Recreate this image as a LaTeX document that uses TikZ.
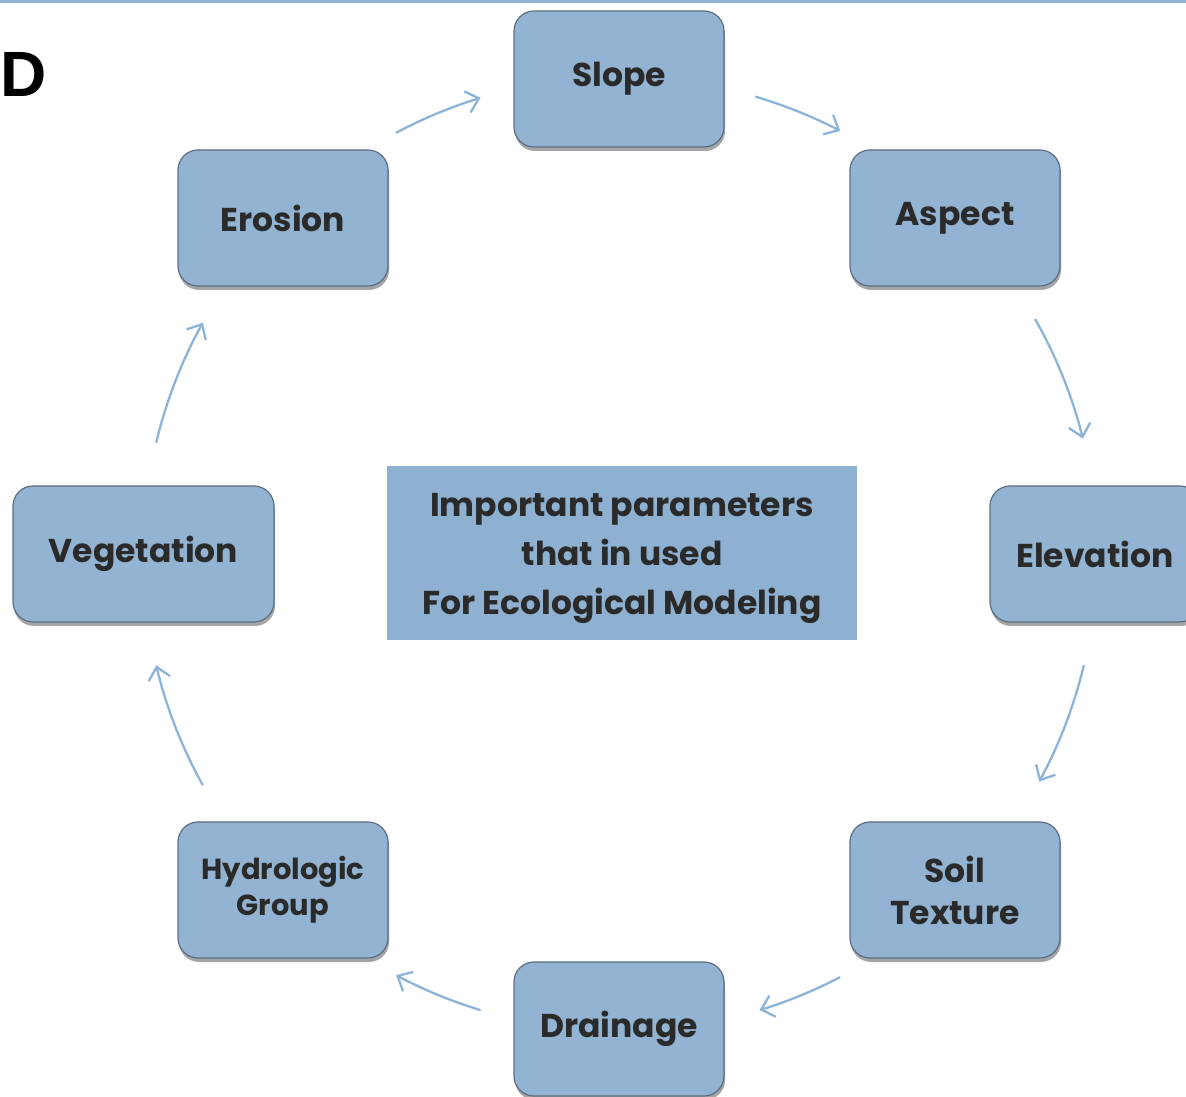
\documentclass[tikz,border=0pt]{standalone}
\usepackage{fontspec}
\setmainfont{Poppins}
\newfontfamily\dfont{Liberation Sans}
\usetikzlibrary{arrows.meta,shadows,calc}
\definecolor{boxfill}{HTML}{92B3D2}
\definecolor{boxedge}{HTML}{5C6E80}
\definecolor{arrowc}{HTML}{8CB4D8}
\definecolor{txt}{HTML}{2A2A2A}
\definecolor{topline}{HTML}{90B4D4}
\definecolor{centerfill}{HTML}{8FB1D1}
\tikzset{
  param/.style={draw=boxedge, line width=1.2pt, fill=boxfill, rounded corners=20pt,
    minimum height=136pt, minimum width=210pt, inner sep=0pt, align=center,
    text=txt, font=\fontsize{33}{40}\selectfont\bfseries,
    drop shadow={shadow xshift=1pt, shadow yshift=-4pt, opacity=0.5, fill=black!70}},
  cyc/.style={draw=arrowc, line width=2.3pt, -{Straight Barb[length=12pt,width=22pt,line width=2.3pt]}},
  ctext/.style={font=\fontsize{33}{49}\selectfont\bfseries, align=center, inner sep=0pt, text=txt}
}
\begin{document}
\begin{tikzpicture}[x=1pt,y=1pt]
\clip (0,0) rectangle (1186,1096);
\fill[white] (0,0) rectangle (1186,1096);
\fill[topline] (0,1093) rectangle (1186,1096);
\node[anchor=west, inner sep=0pt, font=\dfont\fontsize{64}{64}\selectfont\bfseries] (lab) at (0,1022) {D};
\coordinate (C) at (620,542);
% boxes
\node[param] (slope) at (619,1017) {Slope};
\node[param] (aspect) at (955,878) {Aspect};
\node[param] (elev) at (1095,542) {Elevation};
\node[param, font=\fontsize{33}{42}\selectfont\bfseries] (soil) at (955,206) {Soil\\Texture};
\node[param, minimum height=134pt] (drain) at (619,67) {Drainage};
\node[param, font=\fontsize{29}{36}\selectfont\bfseries] (hydro) at (283,206) {Hydrologic\\Group};
\node[param, minimum width=261pt] (veg) at (143.5,542) {Vegetation};
\node[param] (eros) at (283,878) {Erosion};
% center box
\node[fill=centerfill, minimum width=470pt, minimum height=174pt, inner sep=0pt] (center) at (622,543) {};
\node[ctext] (ctitle) at (622,538) {Important parameters\\that in used\\For Ecological Modeling};
% arcs
\foreach \s/\e/\n in {118/107/a, 73.5/62.5/b, 29.5/14/c, -13.5/-28.5/d, -62.5/-73/e, 253/242/f, 209/193.5/g, 166.5/151/h}{
  \coordinate (\n s) at ($(C)+(\s:477)$);
  \draw[cyc] (\n s) arc[start angle=\s, end angle=\e, radius=477pt];
}
\end{tikzpicture}
\end{document}
